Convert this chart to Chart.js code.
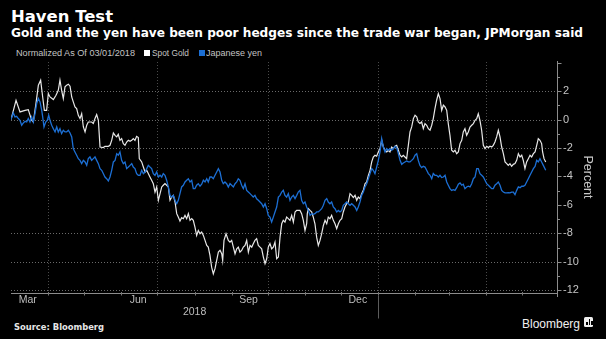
<!DOCTYPE html>
<html><head><meta charset="utf-8">
<script src="https://cdn.jsdelivr.net/npm/chart.js@4/dist/chart.umd.min.js"></script>
<style>
html,body{margin:0;padding:0;background:#000;width:606px;height:339px;overflow:hidden;}
.t{position:absolute;white-space:nowrap;line-height:1;transform-origin:0 0;display:inline-block;}
#title{left:11px;top:6.5px;font:bold 16px "DejaVu Sans",sans-serif;color:#fff;}
#sub{left:11px;top:25.8px;font:bold 12px "DejaVu Sans",sans-serif;color:#fff;}
.leg{top:48px;font:8.5px "Liberation Sans",sans-serif;color:#c4c4c4;}
.sq{position:absolute;top:49.5px;width:6px;height:6px;}
#src{left:14px;top:320.5px;font:bold 9.2px "DejaVu Sans",sans-serif;color:#e6e6e6;}
#bbg{left:522px;top:317px;font:12.5px "Liberation Sans",sans-serif;color:#f0f0f0;}
#icon{position:absolute;left:584px;top:317px;width:9px;height:10px;background:#eee;border-radius:1.5px;}
#icon i{position:absolute;bottom:2px;width:1.5px;background:#000;}
#wrap{position:absolute;left:0;top:60px;width:606px;height:279px;}
</style></head>
<body>
<span class="t" id="title" data-w="102">Haven Test</span>
<span class="t" id="sub" data-w="572">Gold and the yen have been poor hedges since the trade war began, JPMorgan said</span>
<span class="t leg" style="left:16px" data-w="119">Normalized As Of 03/01/2018</span>
<div class="sq" style="left:144px;background:#fff"></div>
<span class="t leg" style="left:152px" data-w="37">Spot Gold</span>
<div class="sq" style="left:198.5px;background:#1c6fd4"></div>
<span class="t leg" style="left:206px" data-w="56">Japanese yen</span>
<span class="t" id="src" data-w="90">Source: Bloomberg</span>
<span class="t" id="bbg" data-w="58">Bloomberg</span>
<div id="icon"><i style="left:2px;height:3px"></i><i style="left:4.5px;height:6px"></i><i style="left:7px;height:4px"></i></div>
<div id="wrap"><canvas id="c" width="606" height="279"></canvas></div>
<script>
// x values: days since 2018-03-01 ; y values: percent change (normalized at 03/01/2018)
const goldDay = [
0,4.2,7.5,11.7,14.4,17.2,18.6,20.8,22.8,24.7,
26.4,27.8,29.7,31.1,32.5,35.3,37.5,39.4,40.8,42.2,
43.6,45,46.4,47.8,49.2,50.6,51.9,53.3,54.7,56.1,
57.5,58.9,60.3,61.7,63.1,64.4,67.2,68.6,70,71.4,
72.8,74.2,76.9,78.3,81.1,82.5,83.9,85.3,86.7,88.1,
89.4,90.8,92.2,93.6,95,96.4,97.8,99.2,100.6,101.9,
103.3,104.7,106.1,106.9,108.9,110.3,111.7,113.1,114.4,115.8,
117.2,118.6,120,121.4,122.8,124.2,125.6,126.9,128.3,129.7,
131.1,132.5,133.9,135.3,136.7,138.1,139.4,140.8,142.2,143.6,
145,146.4,147.8,149.2,150.6,151.9,153.3,154.7,156.1,157.5,
158.9,160.3,161.7,163.1,164.4,165.8,167.2,168.6,170,171.4,
172.8,174.2,175.6,176.4,177.5,179.2,181.1,182.5,183.9,185.3,
186.7,188.1,189.4,190.8,192.2,193.6,195,196.4,197.8,199.2,
200.6,201.9,203.3,204.7,206.1,207.5,208.9,210.3,211.7,213.1,
214.4,215.8,217.2,218.6,220,221.4,222.8,224.2,225.6,226.9,
228.3,229.7,231.1,232.5,233.9,235.3,236.7,238.1,240.8,242.2,
243.6,245,246.4,246.9,247.8,249.2,250.6,251.9,253.3,254.7,
256.1,257.5,258.9,260.3,261.7,263.1,264.4,265.8,267.2,268.6,
270,271.4,272.8,274.2,275.6,276.9,278.3,279.7,281.1,282.5,
283.9,285.3,286.7,288.1,289.4,290.8,292.2,293.6,295,296.4,
297.8,299.2,300.6,301.9,303.3,304.7,306.1,307.5,308.9,310.3,
311.7,313.1,314.4,315.8,317.2,318.6,320,321.4,322.8,324.2,
325.6,326.9,328.3,329.7,331.1,332.5,333.9,335.3,336.7,338.1,
339.4,340.8,342.2,343.6,345,346.4,347.8,349.2,350.6,351.9,
353.3,354.7,356.1,357.5,358.9,360.3,361.7,363.1,364.4,365.8,
367.2,368.6,370,371.4,372.8,374.2,375.6,376.9,378.3,379.7,
381.1,382.5,383.9,385.3,386.7,388.1,389.4,390.8,392.2,393.6,
395,396.4,397.8,399.2,400.6,401.9,403.3,404.7,406.1,407.5,
408.9,410.3,411.7,413.1,414.4,415.8,417.2,418.6,420,421.4,
422.8,424.2,425.6,426.9,428.3,429.7,431.1,432.5,433.9,435.3,
436.7,438.1,439.4,440.8,442.2,443,444.2,445.6];
const goldPct = [
0,1.36,0.54,0.65,0.70,-0.05,-0.17,1.12,2.42,2.77,
1.59,0.65,0.65,1.83,1.59,1.41,1.71,2.06,2.77,2.06,
1.48,2.30,2.42,2.49,2.35,1.59,1.24,0.89,0.77,0.30,
0.07,0.42,-0.52,-0.87,-0.40,-0.17,-0.17,-0.28,0.07,0.35,
-0.05,-1.93,-1.97,-1.88,-1.88,-1.81,-1.46,-0.94,-1.11,-1.22,
-1.04,-1.46,-1.34,-1.69,-1.81,-1.58,-1.46,-1.53,-1.46,-1.34,
-1.46,-1.18,-1.27,-2.75,-2.98,-3.34,-3.69,-3.57,-3.80,-4.04,
-4.27,-4.51,-5.10,-4.74,-5.68,-5.21,-4.74,-4.62,-4.51,-4.62,
-4.74,-5.68,-5.45,-5.33,-5.80,-6.62,-6.86,-7.14,-6.90,-6.97,
-6.74,-6.97,-6.62,-7.09,-6.97,-7.09,-7.56,-8.15,-7.80,-8.03,
-7.91,-8.15,-8.50,-8.85,-8.97,-9.56,-10.38,-10.85,-10.49,-9.91,
-9.32,-9.20,-9.44,-9.91,-8.50,-8.03,-8.50,-8.62,-8.50,-8.97,
-9.44,-9.09,-8.97,-9.32,-9.21,-8.97,-8.85,-8.50,-9.32,-8.85,
-8.97,-8.73,-8.50,-8.38,-8.85,-8.97,-9.09,-9.67,-10.14,-9.79,
-8.97,-8.73,-9.09,-8.97,-8.62,-9.79,-9.67,-8.27,-7.33,-7.09,
-7.21,-6.86,-6.97,-7.09,-6.74,-7.21,-6.50,-6.39,-6.39,-6.62,
-7.09,-7.80,-7.33,-6.62,-6.27,-6.39,-6.50,-6.86,-7.33,-8.27,
-8.85,-8.50,-8.03,-7.45,-7.09,-7.33,-6.86,-6.97,-6.74,-7.09,
-7.33,-7.68,-7.33,-7.09,-6.97,-6.50,-6.15,-5.92,-5.80,-5.21,
-5.33,-5.49,-5.33,-5.68,-5.45,-5.57,-5.21,-4.98,-4.51,-4.39,
-3.92,-3.57,-2.98,-2.63,-2.51,-2.58,-2.28,-2.04,-1.46,-1.93,
-2.16,-2.28,-2.16,-2.28,-1.93,-2.04,-1.88,-1.81,-2.16,-2.51,
-2.63,-2.51,-2.63,-2.75,-1.81,-0.87,-0.52,0.07,0.30,0.19,
-0.17,-0.28,-0.17,-0.64,-0.28,-0.40,-0.64,-0.75,-0.40,0.07,
0.77,1.36,1.83,1.48,0.65,1.01,0.89,0.65,-0.28,-1.11,
-2.16,-2.28,-2.16,-2.40,-2.28,-1.69,-1.46,-0.87,-0.64,-1.11,
-0.87,-0.52,-0.40,-0.28,-0.05,0.07,0.42,-0.05,-0.75,-1.81,
-2.04,-1.88,-1.97,-1.88,-1.93,-1.81,-1.58,-1.22,-0.75,-1.22,
-1.93,-2.40,-2.98,-3.10,-3.22,-3.10,-3.29,-3.15,-3.10,-2.87,
-2.40,-2.63,-2.51,-2.87,-3.45,-2.98,-2.75,-2.51,-2.63,-2.40,
-2.28,-1.81,-1.34,-1.46,-1.69,-2.28,-2.75,-2.98];
const yenDay = [
0,1.9,3.3,4.7,6.1,7.5,8.9,10.3,11.7,13.1,
14.4,15.8,17.2,18.6,20,21.4,22.8,24.2,25.6,26.4,
27.5,28.9,30.3,31.4,32.5,33.9,35.3,36.7,38.1,39.4,
40.8,42.2,43.6,45,46.4,47.8,49.2,50.6,51.9,53.3,
54.7,56.1,57.5,58.9,60.3,61.7,63.1,64.4,65.8,67.2,
68.6,70,71.4,72.8,74.2,75.6,76.9,78.3,79.7,81.1,
82.5,83.9,85.3,86.7,88.1,89.4,90.8,92.2,93.6,95,
96.4,97.8,99.2,100.6,101.9,103.3,104.7,106.1,107.5,108.9,
110.3,111.7,113.1,114.4,115.8,117.2,118.6,120,121.4,122.8,
124.2,125.6,126.9,128.3,129.7,131.1,132.5,133.9,135.3,136.7,
138.1,139.4,140.8,142.2,143.6,145,146.4,147.8,149.2,150.6,
151.9,153.3,154.7,156.1,157.5,158.9,160.3,161.7,163.1,164.4,
165.8,167.2,168.6,170,171.4,172.8,174.2,175.6,176.9,178.3,
179.7,181.1,182.5,183.9,185.3,186.7,188.1,189.4,190.8,192.2,
193.6,195,196.4,197.8,199.2,200.6,201.9,203.3,204.7,206.1,
207.5,208.9,210.3,211.7,213.1,214.4,215.8,217.2,218.6,220,
221.4,222.8,224.2,225.6,226.9,228.3,229.7,231.1,232.5,233.9,
235.3,236.7,238.1,239.4,240.8,242.2,243.6,245,246.4,247.8,
249.2,250.6,251.9,253.3,254.7,256.1,257.5,258.9,260.3,261.7,
263.1,264.4,265.8,267.2,268.6,270,271.4,272.8,274.2,275.6,
276.9,278.3,279.7,281.1,282.5,283.9,285.3,286.7,288.1,289.4,
290.8,292.2,293.6,295,296.4,297.8,299.2,300.6,301.9,303.3,
304.7,306.1,307.5,308.9,310.3,311.7,313.1,314.4,315.8,317.2,
318.6,320,321.4,322.8,324.2,325.6,326.9,328.3,329.7,331.1,
332.5,333.9,335.3,336.7,338.1,339.4,340.8,342.2,343.6,345,
346.4,347.8,349.2,350.6,351.9,353.3,354.7,356.1,357.5,358.9,
360.3,361.7,363.1,364.4,365.8,367.2,368.6,370,371.4,372.8,
374.2,375.6,376.9,378.3,379.7,381.1,382.5,383.9,385.3,386.7,
388.1,389.4,390.8,392.2,393.6,395,396.4,397.8,399.2,400.6,
401.9,403.3,404.7,406.1,407.5,408.9,410.3,411.7,413.1,414.4,
415.8,417.2,418.6,420,421.4,422.8,424.2,425.6,426.9,428.3,
429.7,431.1,432.5,433.9,435.3,436.7,438.1,439.4,440.8,442.2,
443.6,445.6];
const yenPct = [
0,0.47,0.19,0.23,0.07,-0.05,-0.40,-0.24,-0.12,-0.17,
0.07,-0.17,0.19,-0.17,0.42,1.12,1.48,1.24,0.65,0.19,
-0.52,-0.17,-0.05,0.30,-0.05,-0.40,-0.64,-0.87,-0.52,-0.87,
-0.64,-0.99,-0.75,-0.87,-0.87,-0.75,-0.94,-1.22,-2.04,-2.28,
-2.51,-2.75,-2.87,-3.10,-2.87,-2.98,-3.22,-2.75,-2.63,-2.87,
-2.75,-2.63,-2.87,-3.10,-3.45,-3.57,-3.80,-4.04,-4.16,-4.32,
-4.04,-3.57,-2.98,-2.87,-2.40,-2.51,-2.28,-2.87,-3.10,-2.98,
-3.45,-3.34,-3.22,-3.10,-3.34,-3.45,-3.80,-3.92,-3.92,-3.57,
-3.80,-3.69,-3.45,-3.22,-3.34,-3.45,-3.80,-3.92,-3.69,-4.04,
-3.92,-4.04,-3.80,-3.92,-4.27,-4.74,-5.33,-5.45,-5.33,-5.68,
-5.92,-5.68,-5.21,-4.74,-4.62,-4.39,-4.27,-4.16,-4.39,-4.27,
-4.86,-4.86,-4.62,-4.51,-4.69,-4.55,-4.27,-4.39,-4.16,-4.39,
-4.04,-4.04,-4.16,-3.92,-3.69,-3.45,-3.69,-4.27,-4.51,-4.39,
-4.51,-4.74,-4.51,-4.62,-4.74,-4.51,-4.39,-4.16,-4.27,-4.62,
-4.86,-4.51,-4.98,-5.10,-5.21,-5.33,-5.45,-5.33,-5.57,-5.68,
-5.80,-5.92,-6.15,-5.92,-6.27,-6.74,-6.86,-7.21,-6.86,-6.50,
-6.15,-5.45,-5.33,-5.10,-4.98,-5.33,-5.45,-5.21,-5.68,-5.45,
-5.33,-5.56,-5.33,-5.10,-4.98,-5.68,-5.92,-5.80,-6.15,-6.39,
-6.74,-6.62,-6.67,-6.62,-6.50,-6.50,-6.39,-6.27,-6.03,-5.68,
-5.56,-5.80,-5.92,-5.80,-6.15,-6.27,-6.50,-6.39,-6.50,-6.39,
-6.03,-5.92,-5.80,-5.92,-6.03,-5.92,-6.03,-6.15,-6.39,-6.15,
-5.80,-5.33,-5.10,-4.74,-4.51,-4.16,-3.80,-3.45,-3.57,-3.80,
-3.34,-2.87,-2.28,-1.34,-1.93,-2.28,-2.04,-2.16,-2.04,-2.16,
-2.04,-1.88,-1.97,-2.40,-2.87,-3.15,-3.06,-2.98,-2.91,-2.98,
-2.98,-2.87,-2.75,-2.51,-2.40,-2.87,-3.22,-3.38,-3.29,-3.34,
-3.57,-3.80,-3.92,-4.16,-3.80,-3.92,-3.92,-4.04,-3.92,-4.08,
-4.04,-3.92,-4.39,-4.62,-4.86,-4.98,-4.93,-4.98,-4.79,-4.55,
-4.46,-4.62,-4.55,-4.86,-4.74,-4.69,-4.74,-4.51,-4.16,-4.04,
-3.45,-3.45,-3.80,-3.92,-4.04,-4.27,-4.51,-4.62,-4.74,-4.86,
-4.86,-4.62,-4.51,-4.39,-4.62,-4.98,-5.10,-5.16,-5.16,-5.14,
-5.16,-5.10,-5.10,-5.28,-4.98,-4.74,-4.79,-4.69,-4.69,-4.62,
-4.39,-4.16,-3.92,-3.69,-3.45,-3.29,-2.87,-2.98,-2.75,-2.98,
-3.22,-3.57];

const monthLabels = ['Mar','Jun','Sep','Dec'];
const monthLabelDay = [14,106,198,289];          // mid-month positions
const monthStartDay = [31,61,92,122,153,184,214,245,275,306,337,365,396,426];
const quarterGridDay = [31,122,214,306,396];
const yearLabel = '2018';
const yearStartDay = 0, nextYearDay = 306;
const yTickValues = [-12,-11,-10,-9,-8,-7,-6,-5,-4,-3,-2,-1,0,1,2,3,4];
const yGridValues = [2,0,-2,-8,-10,-12];

function pts(xs, ys){ const n=Math.min(xs.length,ys.length); const o=[]; for(let i=0;i<n;i++) o.push({x:xs[i],y:ys[i]}); return o; }

const deco = {
  id:'deco',
  beforeDatasetsDraw(chart){
    const {ctx, chartArea:a, scales:{x,y}} = chart;
    ctx.save();
    ctx.lineWidth=1; ctx.setLineDash([1,2]);
    ctx.strokeStyle='#6a6a6a';
    yGridValues.forEach(v=>{const py=Math.round(y.getPixelForValue(v))+0.5; ctx.beginPath(); ctx.moveTo(a.left,py); ctx.lineTo(a.right,py); ctx.stroke();});
    ctx.strokeStyle='#4a4a4a';
    quarterGridDay.forEach(d=>{const px=Math.round(x.getPixelForValue(d))+0.5; ctx.beginPath(); ctx.moveTo(px,a.top); ctx.lineTo(px,a.bottom); ctx.stroke();});
    ctx.restore();
  },
  afterDraw(chart){
    const {ctx, chartArea:a, scales:{x,y}} = chart;
    ctx.save();
    ctx.strokeStyle='#8c8c8c'; ctx.lineWidth=1;
    const by=Math.round(a.bottom)+0.5, rx=Math.round(a.right)+0.5;
    ctx.beginPath(); ctx.moveTo(a.left,by); ctx.lineTo(rx,by); ctx.stroke();
    ctx.beginPath(); ctx.moveTo(rx,a.top-1); ctx.lineTo(rx,a.bottom+4); ctx.stroke();
    yTickValues.forEach(v=>{const py=Math.round(y.getPixelForValue(v))+0.5; const len=(v%2===0)?4:2.5; ctx.beginPath(); ctx.moveTo(rx,py); ctx.lineTo(rx+len,py); ctx.stroke();});
    ctx.strokeStyle='#777';
    monthStartDay.forEach(d=>{const px=Math.round(x.getPixelForValue(d))+0.5; ctx.beginPath(); ctx.moveTo(px,by-1.5); ctx.lineTo(px,by+2); ctx.stroke();});
    ctx.strokeStyle='#5c5c5c';
    const yx=Math.round(x.getPixelForValue(nextYearDay))+0.5;
    ctx.beginPath(); ctx.moveTo(yx,by+2); ctx.lineTo(yx,by+25); ctx.stroke();
    ctx.fillStyle='#bdbdbd'; ctx.font='10.5px "Liberation Sans", sans-serif';
    ctx.textAlign='center'; ctx.textBaseline='middle';
    ctx.fillText(yearLabel, x.getPixelForValue((yearStartDay+nextYearDay)/2), by+19);
    ctx.translate(587, 117); ctx.rotate(Math.PI/2);
    ctx.fillStyle='#c8c8c8'; ctx.font='12.5px "Liberation Sans", sans-serif';
    ctx.fillText('Percent', 0, 0);
    ctx.restore();
  }
};

new Chart(document.getElementById('c'), {
  type:'line',
  data:{datasets:[
    {label:'Spot Gold', data:pts(goldDay,goldPct), borderColor:'#e8e8e8', borderWidth:1.2, order:1},
    {label:'Japanese yen', data:pts(yenDay,yenPct), borderColor:'#1c6fd4', borderWidth:1.3, order:0}
  ]},
  options:{
    responsive:false, animation:false, devicePixelRatio:1,
    layout:{padding:{left:11,top:2,right:0,bottom:0}},
    plugins:{legend:{display:false}, tooltip:{enabled:false}},
    elements:{point:{radius:0}, line:{tension:0, fill:false}},
    scales:{
      x:{type:'linear', min:0, max:455,
        grid:{display:false, drawTicks:false}, border:{display:false},
        ticks:{padding:1, color:'#bdbdbd', font:{family:'Liberation Sans', size:10.5}, maxRotation:0, autoSkip:false,
          callback:(v)=>{const i=monthLabelDay.indexOf(v); return i>=0?monthLabels[i]:'';}},
        afterBuildTicks:(s)=>{s.ticks=monthLabelDay.map(v=>({value:v}));},
        afterFit:(s)=>{s.height=46; s.paddingLeft=0; s.paddingRight=0;}
      },
      y:{position:'right', min:-12.2, max:4.05,
        grid:{display:false, drawTicks:false}, border:{display:false},
        ticks:{padding:6, color:'#c4c4c4', font:{family:'Liberation Sans', size:11}, autoSkip:false,
          callback:(v)=> (v%2===0 && v<=2) ? String(v) : ''},
        afterBuildTicks:(s)=>{s.ticks=yTickValues.map(v=>({value:v}));},
        afterFit:(s)=>{s.width=49; s.paddingTop=0; s.paddingBottom=0;}
      }
    }
  },
  plugins:[deco]
});

function fit(){
  document.querySelectorAll('[data-w]').forEach(el=>{
    el.style.transform='none';
    const w=el.getBoundingClientRect().width;
    const t=parseFloat(el.dataset.w);
    if(w>0) el.style.transform='scaleX('+(t/w)+')';
  });
}
fit();
if(document.fonts && document.fonts.ready) document.fonts.ready.then(fit);
</script>
</body></html>
